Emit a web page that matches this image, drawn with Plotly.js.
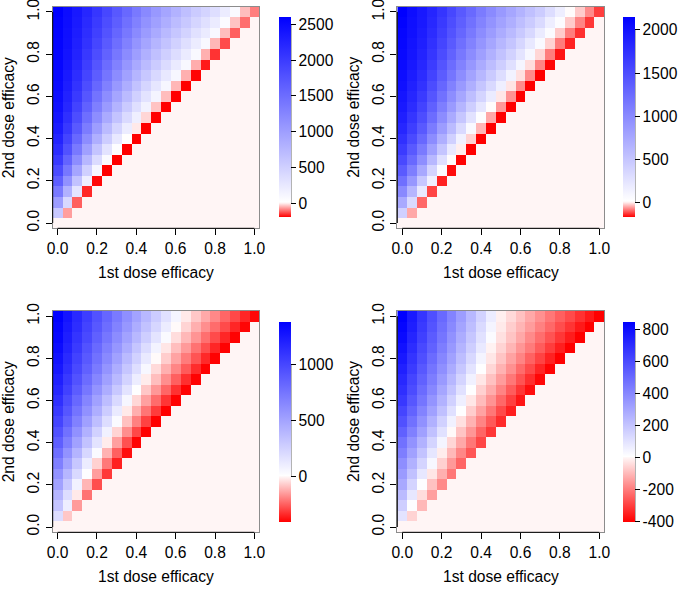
<!DOCTYPE html>
<html><head><meta charset="utf-8">
<script src="https://cdn.plot.ly/plotly-3.0.1.min.js"></script>
<style>html,body{margin:0;padding:0;background:#fff}#chart{width:685px;height:589px}</style>
</head><body><div id="chart"></div>
<script>
// efficacy levels (cell centres on both axes)
const efficacy = [0, 0.05, 0.1, 0.15, 0.2, 0.25, 0.3, 0.35, 0.4, 0.45, 0.5, 0.55, 0.6, 0.65, 0.7, 0.75, 0.8, 0.85, 0.9, 0.95, 1];
const axisTicks = [0, 0.2, 0.4, 0.6, 0.8, 1.0];
const axisTickText = ['0.0', '0.2', '0.4', '0.6', '0.8', '1.0'];
const xTitle = '1st dose efficacy';
const yTitle = '2nd dose efficacy';
const BELOW = 0; // value of cells where 2nd dose efficacy < 1st dose efficacy

// Panel 1 (top-left): one array per 1st-dose column, from the diagonal upward
const panel1Cols = [
  [0, 575, 1020, 1370, 1645, 1855, 2020, 2150, 2250, 2325, 2385, 2435, 2470, 2500, 2520, 2540, 2550, 2560, 2570, 2580, 2600],
  [-70, 415, 810, 1130, 1390, 1600, 1775, 1915, 2030, 2125, 2200, 2260, 2310, 2350, 2385, 2410, 2435, 2450, 2465, 2480],
  [-120, 290, 635, 925, 1170, 1375, 1550, 1695, 1820, 1920, 2010, 2085, 2145, 2200, 2245, 2280, 2310, 2340, 2360],
  [-165, 185, 490, 750, 975, 1170, 1340, 1490, 1615, 1725, 1820, 1905, 1975, 2035, 2090, 2135, 2175, 2210],
  [-190, 110, 380, 615, 825, 1010, 1170, 1315, 1440, 1555, 1655, 1740, 1820, 1890, 1950, 2000, 2050],
  [-196, 70, 305, 520, 710, 880, 1035, 1175, 1300, 1410, 1510, 1605, 1685, 1755, 1825, 1880],
  [-196, 40, 250, 445, 620, 785, 930, 1060, 1185, 1295, 1395, 1485, 1570, 1645, 1710],
  [-196, 15, 210, 390, 555, 705, 845, 970, 1085, 1195, 1295, 1385, 1465, 1545],
  [-196, -10, 175, 340, 495, 635, 765, 885, 1000, 1105, 1200, 1290, 1370],
  [-196, -25, 150, 305, 445, 580, 705, 820, 930, 1030, 1125, 1210],
  [-196, -40, 130, 275, 410, 540, 660, 770, 875, 975, 1065],
  [-196, -45, 110, 250, 385, 505, 620, 730, 835, 930],
  [-196, -50, 100, 230, 360, 480, 590, 695, 795],
  [-196, -55, 90, 220, 340, 460, 570, 670],
  [-194, -58, 80, 205, 325, 440, 545],
  [-175, -55, 85, 215, 335, 450],
  [-155, -50, 90, 220, 350],
  [-135, -45, 60, 210],
  [-120, -40, 70],
  [-108, -45],
  [-95]
];

// Panel 2 (top-right)
const panel2Cols = [
  [0, 405, 735, 1005, 1220, 1395, 1540, 1655, 1745, 1825, 1885, 1935, 1975, 2010, 2035, 2055, 2070, 2085, 2100, 2120, 2147],
  [-55, 320, 625, 880, 1090, 1265, 1405, 1525, 1625, 1705, 1775, 1830, 1875, 1915, 1945, 1970, 1990, 2010, 2025, 2035],
  [-100, 200, 480, 740, 955, 1130, 1280, 1400, 1505, 1585, 1660, 1725, 1775, 1820, 1855, 1885, 1910, 1935, 1950],
  [-125, 140, 370, 610, 805, 975, 1120, 1245, 1345, 1440, 1515, 1585, 1645, 1695, 1740, 1775, 1810, 1840],
  [-150, 50, 280, 500, 685, 840, 975, 1095, 1200, 1295, 1375, 1445, 1510, 1570, 1620, 1660, 1700],
  [-165, 10, 200, 410, 580, 725, 855, 970, 1070, 1165, 1245, 1325, 1390, 1450, 1505, 1550],
  [-172, -5, 130, 320, 490, 635, 755, 865, 970, 1060, 1145, 1220, 1290, 1350, 1405],
  [-174, -25, 60, 260, 420, 560, 680, 785, 885, 975, 1060, 1135, 1200, 1265],
  [-174, -45, 30, 220, 370, 500, 615, 720, 815, 900, 980, 1055, 1120],
  [-174, -55, 10, 180, 330, 455, 565, 665, 755, 840, 920, 990],
  [-174, -65, -10, 150, 300, 420, 525, 620, 710, 795, 870],
  [-174, -70, -12, 120, 270, 390, 495, 590, 680, 760],
  [-174, -75, -15, 100, 240, 360, 465, 560, 650],
  [-174, -75, -18, 80, 210, 340, 450, 545],
  [-174, -80, -22, 60, 180, 320, 440],
  [-170, -85, -25, 50, 160, 300],
  [-160, -87, -30, 40, 160],
  [-150, -85, -30, 10],
  [-140, -80, -30],
  [-135, -75],
  [-130]
];

// Panel 3 (bottom-left): one array per 2nd-dose row, from 1st dose 0 up to the diagonal
const panel3Rows = [
  [0],
  [195, -75],
  [330, 110, -150],
  [410, 195, -20, -215],
  [520, 305, 85, -105, -275],
  [600, 405, 215, 20, -145, -310],
  [700, 505, 310, 115, -60, -205, -350],
  [790, 600, 415, 225, 40, -110, -245, -380],
  [880, 700, 520, 340, 160, -15, -140, -270, -398],
  [950, 775, 605, 430, 260, 85, -55, -170, -285, -400],
  [1020, 855, 690, 525, 360, 195, 35, -85, -190, -295, -402],
  [1080, 920, 760, 605, 445, 285, 125, -20, -115, -210, -305, -403],
  [1130, 975, 825, 670, 520, 365, 215, 60, -50, -140, -225, -315, -400],
  [1180, 1035, 890, 745, 595, 450, 305, 160, 15, -75, -155, -235, -320, -400],
  [1220, 1080, 945, 805, 665, 525, 390, 250, 110, -15, -90, -170, -245, -325, -400],
  [1260, 1125, 990, 860, 725, 590, 455, 320, 190, 55, -45, -115, -185, -255, -330, -400],
  [1290, 1160, 1030, 905, 775, 645, 515, 385, 260, 130, 5, -65, -135, -200, -265, -335, -400],
  [1320, 1195, 1070, 945, 820, 695, 575, 450, 325, 200, 75, -25, -90, -150, -215, -275, -340, -400],
  [1345, 1225, 1105, 990, 870, 750, 630, 510, 395, 275, 155, 35, -40, -100, -160, -220, -280, -340, -400],
  [1365, 1250, 1140, 1025, 910, 795, 685, 570, 455, 340, 230, 115, 5, -55, -115, -170, -225, -280, -340, -395],
  [1385, 1275, 1165, 1055, 945, 835, 725, 615, 505, 395, 285, 175, 65, -20, -75, -125, -180, -235, -285, -340, -392]
];

// Panel 4 (bottom-right)
const panel4Rows = [
  [0],
  [100, -55],
  [170, 15, -100],
  [230, 85, -40, -140],
  [290, 150, 15, -85, -175],
  [335, 210, 85, -25, -115, -205],
  [380, 265, 150, 35, -60, -150, -235],
  [430, 315, 205, 90, -15, -100, -180, -260],
  [475, 365, 260, 150, 45, -50, -125, -205, -285],
  [530, 425, 320, 210, 105, 3, -80, -155, -235, -310],
  [580, 475, 370, 265, 160, 55, -35, -110, -185, -255, -330],
  [620, 520, 415, 315, 215, 110, 10, -65, -135, -205, -280, -350],
  [660, 560, 460, 360, 260, 160, 60, -25, -95, -160, -230, -295, -365],
  [690, 595, 495, 400, 300, 205, 105, 10, -60, -120, -185, -250, -315, -378],
  [715, 620, 525, 435, 340, 245, 150, 55, -25, -85, -145, -205, -265, -325, -388],
  [740, 650, 555, 465, 375, 285, 190, 100, 10, -50, -110, -165, -225, -280, -340, -395],
  [765, 675, 585, 495, 405, 315, 225, 135, 45, -25, -80, -135, -185, -240, -290, -345, -398],
  [790, 700, 610, 525, 435, 345, 255, 170, 80, -5, -55, -105, -155, -200, -250, -300, -350, -400],
  [812, 725, 635, 545, 460, 370, 280, 195, 105, 20, -35, -80, -125, -175, -220, -265, -310, -355, -400],
  [830, 745, 655, 570, 480, 395, 305, 220, 130, 45, -20, -65, -105, -145, -190, -230, -275, -315, -360, -400],
  [845, 760, 670, 585, 500, 415, 330, 240, 155, 70, -10, -45, -85, -125, -165, -205, -245, -280, -320, -360, -400]
];

// colour-bar tick labels
const cbTicks1 = [0, 500, 1000, 1500, 2000, 2500];
const cbTicks2 = [0, 500, 1000, 1500, 2000];
const cbTicks3 = [0, 500, 1000];
const cbTicks4 = [-400, -200, 0, 200, 400, 600, 800];

// ---------- build matrices ----------
function fromColumns(cols) {
  const n = efficacy.length, z = [];
  for (let i = 0; i < n; i++) {
    const row = [];
    for (let j = 0; j < n; j++) row.push(i < j ? BELOW : cols[j][i - j]);
    z.push(row);
  }
  return z;
}
function fromRows(rows) {
  const n = efficacy.length, z = [];
  for (let i = 0; i < n; i++) {
    const row = [];
    for (let j = 0; j < n; j++) row.push(j <= i ? rows[i][j] : BELOW);
    z.push(row);
  }
  return z;
}

const W = 685, H = 589;
const px2x = p => p / W;
const px2y = p => 1 - p / H;
const FONT = 'Liberation Sans, Arial, Helvetica, sans-serif';
const FS = 15.6;

const panels = [
  {z: fromColumns(panel1Cols), ticks: cbTicks1, xs: 'x',  ys: 'y',  box: [52.7, 259.3, 6.7, 228.3], cb: [279.3, 17.3, 217.3]},
  {z: fromColumns(panel2Cols), ticks: cbTicks2, xs: 'x2', ys: 'y2', box: [397.3, 604.3, 6.7, 228.3], cb: [623.3, 17.3, 217.3]},
  {z: fromRows(panel3Rows),    ticks: cbTicks3, xs: 'x3', ys: 'y3', box: [52.7, 259.3, 311, 532.3], cb: [279.3, 322, 521.7]},
  {z: fromRows(panel4Rows),    ticks: cbTicks4, xs: 'x4', ys: 'y4', box: [397.3, 604.3, 311, 532.3], cb: [623.3, 322, 521.7]}
];

const traces = [], shapes = [], annotations = [];
const layout = {
  width: W, height: H, margin: {l: 0, r: 0, t: 0, b: 0},
  paper_bgcolor: '#fff', plot_bgcolor: '#fff', showlegend: false,
  font: {family: FONT, size: FS, color: '#000'}
};
const CBW = 11.5;

panels.forEach((p, k) => {
  const flat = p.z.flat();
  const zmin = Math.min(...flat), zmax = Math.max(...flat);
  const p0 = (0 - zmin) / (zmax - zmin);
  const colorscale = [[0, '#FF0000'], [p0, '#FFF5F5'], [Math.min(p0 + 0.006, 0.999), '#FFFFFF'], [1, '#0000FF']];
  const [cbx, cbt, cbb] = p.cb;
  const len = cbb - cbt;
  traces.push({
    type: 'heatmap', x: efficacy, y: efficacy, z: p.z, xaxis: p.xs, yaxis: p.ys,
    zmin: zmin, zmax: zmax, colorscale: colorscale, hoverinfo: 'skip',
    colorbar: {
      x: px2x(cbx), xanchor: 'left', y: px2y((cbt + cbb) / 2), yanchor: 'middle',
      len: len, lenmode: 'pixels', thickness: CBW, thicknessmode: 'pixels',
      xpad: 0, ypad: 0, outlinewidth: 0, ticks: 'outside', ticklen: 5, tickwidth: 1, tickcolor: '#000',
      tickvals: p.ticks, ticktext: p.ticks.map(String), ticklabeloverflow: 'allow',
      tickfont: {family: FONT, size: FS, color: '#000'}
    }
  });
  // colour-bar axis line
  const vy = v => px2y(cbb - (v - zmin) / (zmax - zmin) * len);
  shapes.push({type: 'line', xref: 'paper', yref: 'paper', x0: px2x(cbx + CBW), x1: px2x(cbx + CBW),
    y0: vy(p.ticks[0]), y1: vy(p.ticks[p.ticks.length - 1]), line: {color: '#000', width: 1}});

  const [l, r, t, b] = p.box;
  const axX = {
    domain: [px2x(l), px2x(r)], anchor: p.ys, range: [-0.025, 1.025],
    tickvals: axisTicks, ticktext: axisTickText, ticks: 'outside', ticklen: 6, tickwidth: 1, tickcolor: '#000',
    showline: true, linecolor: '#8c8c8c', linewidth: 1, mirror: true, showgrid: false, zeroline: false,
    ticklabeloverflow: 'allow',
    tickfont: {family: FONT, size: FS, color: '#000'}, fixedrange: true
  };
  const axY = Object.assign({}, axX, {domain: [px2y(b), px2y(t)], anchor: p.xs, tickangle: -90});
  const sfx = k === 0 ? '' : String(k + 1);
  layout['xaxis' + sfx] = axX;
  layout['yaxis' + sfx] = axY;
  // black axis segments from 0 to 1
  shapes.push({type: 'line', xref: p.xs, yref: p.ys + ' domain', x0: 0, x1: 1, y0: 0, y1: 0, line: {color: '#000', width: 1}});
  shapes.push({type: 'line', xref: p.xs + ' domain', yref: p.ys, x0: 0, x1: 0, y0: 0, y1: 1, line: {color: '#000', width: 1}});
  // axis titles
  annotations.push({text: xTitle, xref: 'paper', yref: 'paper', x: px2x((l + r) / 2), y: px2y(b + 44),
    xanchor: 'center', yanchor: 'middle', showarrow: false, font: {family: FONT, size: FS, color: '#000'}});
  annotations.push({text: yTitle, xref: 'paper', yref: 'paper', x: px2x(l - 44), y: px2y((t + b) / 2),
    xanchor: 'center', yanchor: 'middle', textangle: -90, showarrow: false, font: {family: FONT, size: FS, color: '#000'}});
});
layout.shapes = shapes;
layout.annotations = annotations;

Plotly.newPlot('chart', traces, layout, {staticPlot: true, displayModeBar: false});
</script></body></html>
